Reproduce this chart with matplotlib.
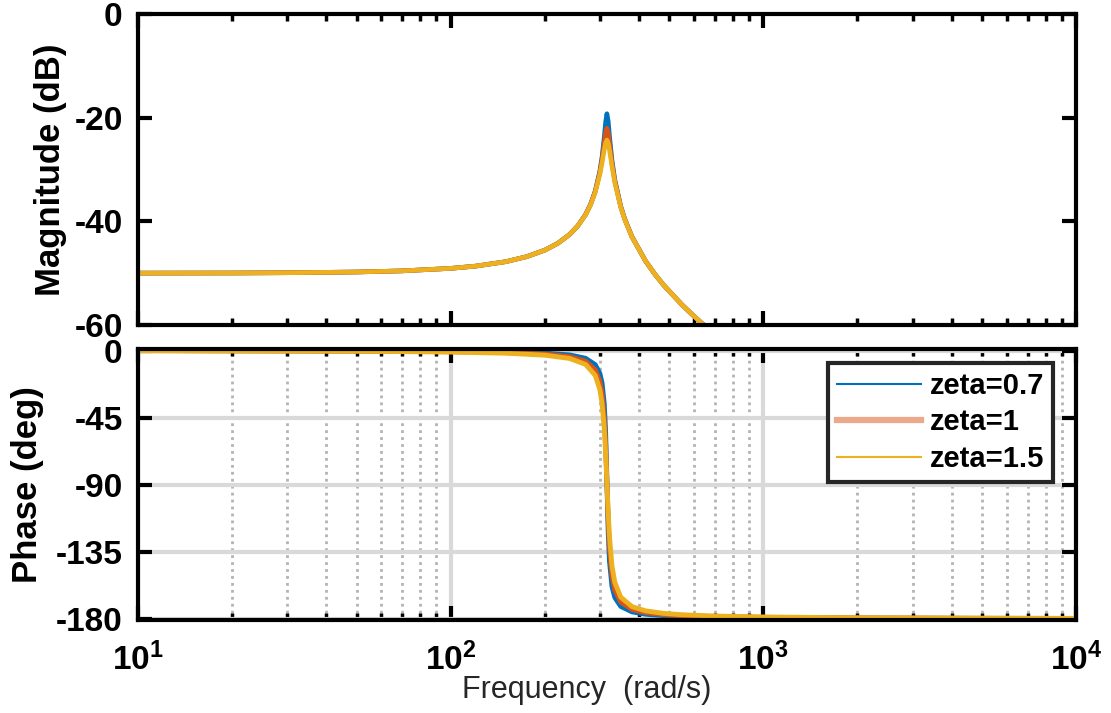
import matplotlib
matplotlib.use("Agg")
import matplotlib.pyplot as plt
from matplotlib.lines import Line2D
from matplotlib.ticker import LogLocator, NullFormatter, FixedLocator
import numpy as np

# values
freq_mag = [10, 20, 30, 50, 70, 100, 120, 150, 175, 200, 220, 240, 255, 270, 280,
            290, 300, 305, 310, 313, 316, 319, 322, 328, 335, 350, 360, 380, 420,
            450, 480, 550, 600, 640, 700]
mag_07 = [-49.99, -49.97, -49.92, -49.78, -49.56, -49.08, -48.65, -47.79, -46.82,
          -45.56, -44.25, -42.55, -40.88, -38.70, -36.75, -34.15, -30.32, -27.52,
          -23.67, -20.92, -19.24, -20.67, -23.48, -28.23, -32.01, -37.13, -39.48,
          -42.95, -47.66, -50.21, -52.31, -56.13, -58.30, -59.82, -61.82]
mag_1 = [-49.99, -49.97, -49.92, -49.78, -49.56, -49.08, -48.65, -47.79, -46.82,
         -45.56, -44.25, -42.55, -40.88, -38.73, -36.80, -34.25, -30.58, -28.03,
         -24.86, -22.97, -22.04, -22.87, -24.79, -28.74, -32.24, -37.21, -39.52,
         -42.99, -47.66, -50.21, -52.31, -56.13, -58.30, -59.82, -61.82]
mag_15 = [-49.99, -49.97, -49.92, -49.78, -49.56, -49.08, -48.65, -47.79, -46.82,
          -45.56, -44.25, -42.55, -40.88, -38.77, -36.88, -34.40, -30.95, -28.68,
          -26.15, -24.86, -24.31, -24.86, -26.19, -29.38, -32.55, -37.32, -39.60,
          -43.03, -47.66, -50.21, -52.31, -56.13, -58.30, -59.82, -61.82]

freq_ph = [10, 50, 100, 150, 200, 240, 270, 290, 300, 305, 310, 313, 316, 319, 322,
           328, 335, 350, 380, 420, 480, 550, 700, 1000, 2000, 5000, 10000]
ph_07 = [-0.05, -0.27, -0.58, -1.02, -1.75, -2.97, -5.22, -9.50, -15.38, -21.85,
         -36.09, -54.71, -87.15, -121.04, -141.29, -158.37, -165.89, -171.88,
         -175.51, -177.11, -178.07, -178.57, -179.06, -179.42, -179.73, -179.89, -179.95]
ph_1 = [-0.07, -0.37, -0.81, -1.40, -2.41, -4.10, -7.18, -12.99, -20.78, -28.95,
        -45.15, -62.84, -87.94, -113.58, -132.13, -151.32, -160.88, -168.87,
        -173.82, -176.02, -177.33, -178.03, -178.70, -179.19, -179.63, -179.85, -179.93]
ph_15 = [-0.09, -0.48, -1.05, -1.82, -3.14, -5.32, -9.31, -16.70, -26.26, -35.71,
         -52.59, -68.47, -88.41, -108.56, -124.83, -144.59, -155.74, -165.65,
         -171.99, -174.83, -176.54, -177.44, -178.31, -178.95, -179.52, -179.81, -179.91]

labels = ["zeta=0.7", "zeta=1", "zeta=1.5"]
colors = ["#0072BD", "#D95319", "#EDB120"]

plt.rcParams["font.family"] = ["Liberation Sans", "DejaVu Sans"]
plt.rcParams["mathtext.fontset"] = "custom"
plt.rcParams["mathtext.rm"] = "Liberation Sans"
plt.rcParams["mathtext.bf"] = "Liberation Sans:bold"

fig = plt.figure(figsize=(11.11, 7.13), dpi=100)
ax1 = fig.add_axes([0.1242, 0.5442, 0.8443, 0.4362])
ax2 = fig.add_axes([0.1242, 0.1304, 0.8443, 0.3801])

for m, c in zip([mag_07, mag_1, mag_15], colors):
    ax1.semilogx(freq_mag, m, color=c, lw=3.3)
for p, c in zip([ph_07, ph_1, ph_15], colors):
    ax2.semilogx(freq_ph, p, color=c, lw=3.5)

for ax in (ax1, ax2):
    ax.set_xlim(10, 1e4)
    ax.xaxis.set_major_locator(FixedLocator([10, 100, 1000, 10000]))
    ax.xaxis.set_minor_locator(LogLocator(base=10, subs=np.arange(2, 10), numticks=20))
    ax.xaxis.set_minor_formatter(NullFormatter())
    ax.tick_params(which="major", direction="in", length=10, width=3,
                   top=True, right=True, labelsize=24)
    ax.tick_params(axis="y", which="major", pad=11)
    ax.tick_params(which="minor", direction="in", length=5, width=2.5,
                   top=True, right=True)
    for s in ax.spines.values():
        s.set_linewidth(3)

ax1.set_ylim(-60, 0)
ax1.set_yticks([0, -20, -40, -60])
ax1.set_yticklabels(["0", "-20", "-40", "-60"], fontweight="bold")
ax1.set_xticklabels([])
ax1.set_ylabel("Magnitude (dB)", fontsize=25, fontweight="bold")
ax1.yaxis.set_label_coords(-0.076, 0.5)

ax2.set_ylim(-181, 1)
ax2.set_yticks([0, -45, -90, -135, -180])
ax2.set_yticklabels(["0", "-45", "-90", "-135", "-180"], fontweight="bold")
ax2.set_xticklabels([r"$\mathbf{10^{1}}$", r"$\mathbf{10^{2}}$",
                     r"$\mathbf{10^{3}}$", r"$\mathbf{10^{4}}$"])
ax2.tick_params(axis="x", which="major", pad=16)
ax2.grid(which="major", color="#d9d9d9", lw=3, ls="-")
ax2.grid(which="minor", axis="x", color="#b3b3b3", lw=2, ls=(0, (1, 1.5)))
ax2.set_axisbelow(True)
ax2.set_ylabel("Phase (deg)", fontsize=25, fontweight="bold")
ax2.yaxis.set_label_coords(-0.100, 0.5)

fig.text(587 / 1111, 1 - 690 / 713, "Frequency  (rad/s)", fontsize=22,
         color="#262626", ha="center", va="center")

handles = [Line2D([], [], color=colors[0], lw=1.5),
           Line2D([], [], color=colors[1], lw=4.5, alpha=0.5),
           Line2D([], [], color=colors[2], lw=1.5)]
leg = ax2.legend(handles, labels, loc="upper right",
                 bbox_to_anchor=(1053 / 1111, 1 - 363 / 713),
                 bbox_transform=fig.transFigure, borderaxespad=0,
                 fancybox=False, framealpha=1, edgecolor="#262626",
                 handlelength=2.9, prop={"weight": "bold", "size": 21},
                 labelspacing=0.3, borderpad=0.3, handletextpad=0.3)
leg.get_frame().set_linewidth(3)

fig.savefig("out.png", dpi=100)
